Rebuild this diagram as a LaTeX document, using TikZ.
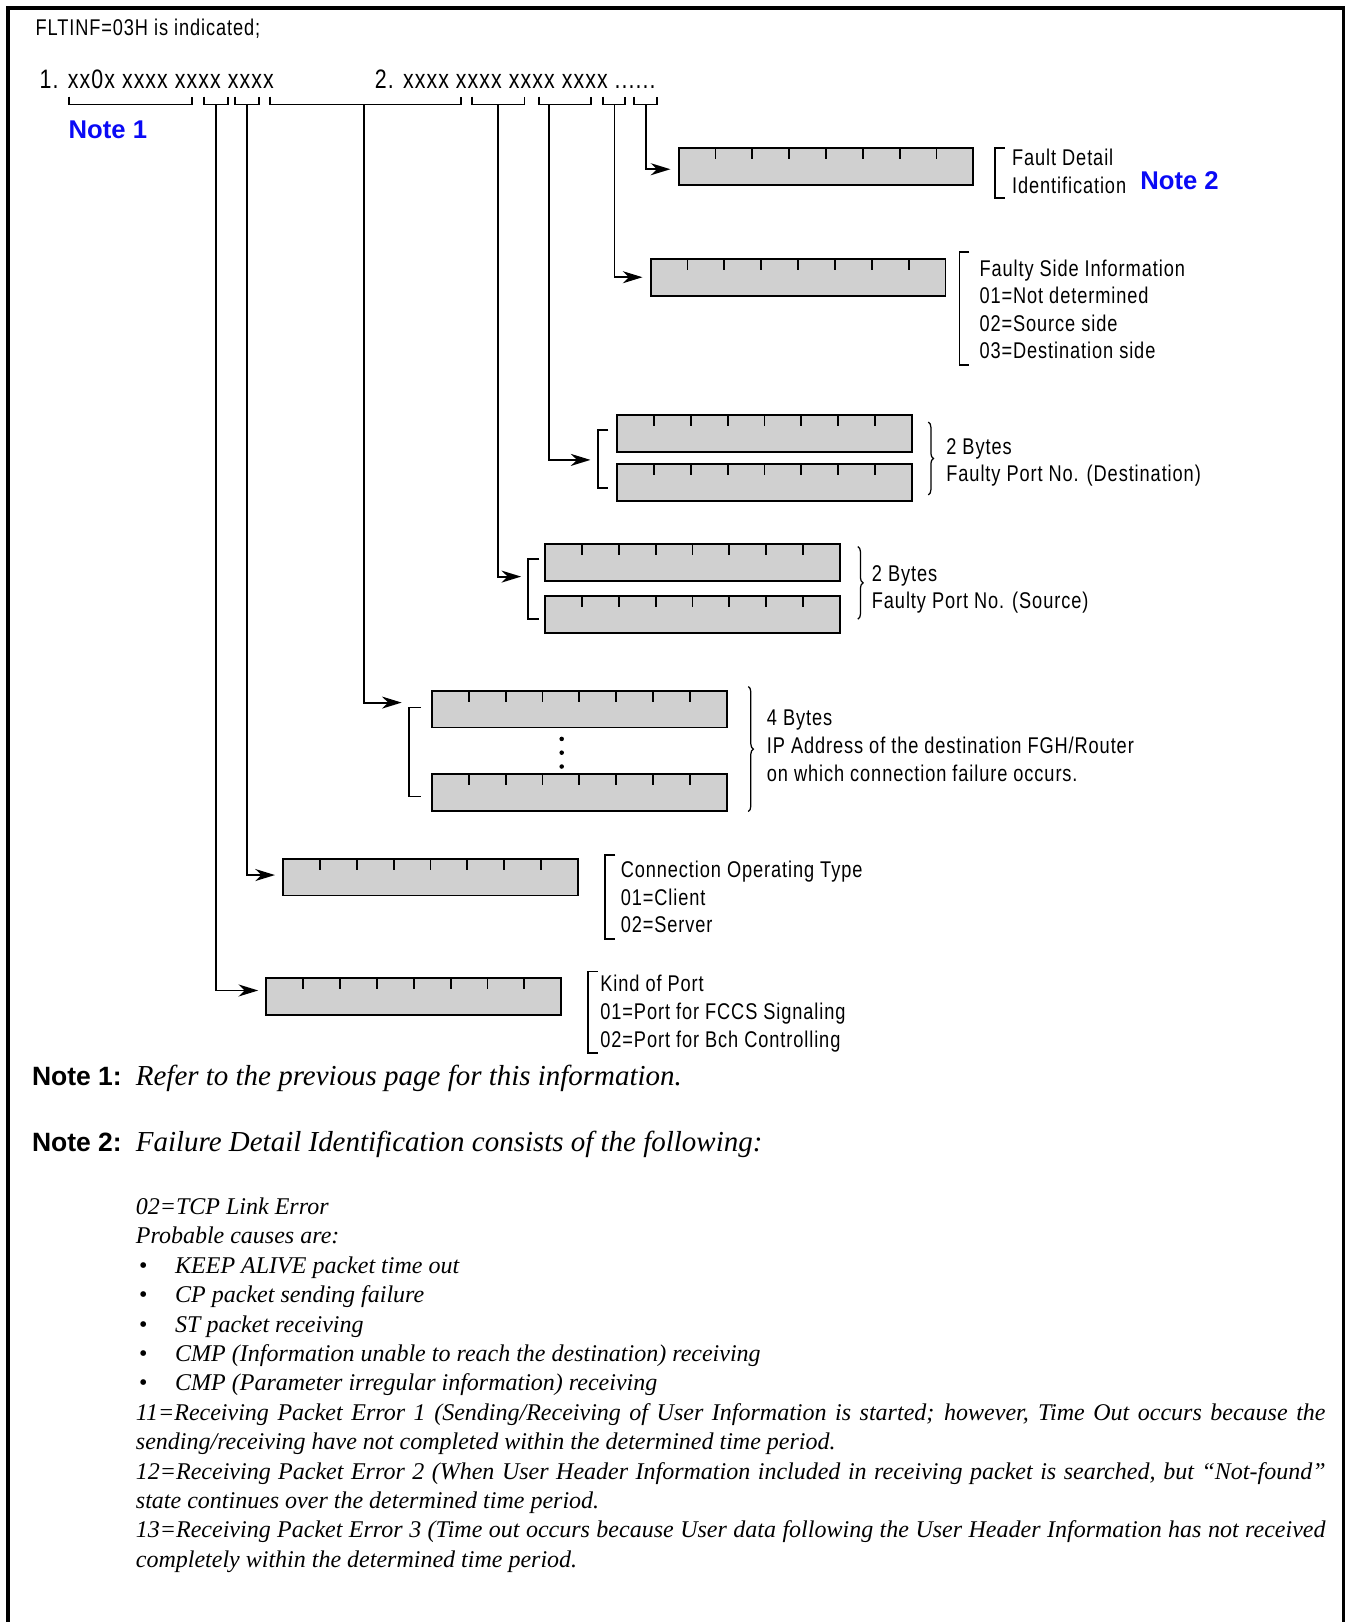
\documentclass[tikz,border=0pt]{standalone}
\usepackage{fontspec}
\usepackage{xcolor}
\usetikzlibrary{arrows.meta, calc, decorations.pathreplacing}
\setmainfont{Liberation Serif}
\newfontfamily\labelfont[FakeStretch=0.8, LetterSpace=4.0]{Liberation Sans}
\newfontfamily\headfont{Liberation Sans}
\definecolor{fieldgray}{RGB}{208,208,208}
\definecolor{noteblue}{RGB}{10,10,245}

% one octet field: grey box with seven bit ticks on the top edge
\tikzset{
  field/.style={draw, fill=fieldgray, line width=0.9pt, inner sep=0pt,
    minimum width=142.5pt, minimum height=17.75pt,
    path picture={\foreach \k in {1,...,7}
      \draw[line width=0.9pt] ($(path picture bounding box.north west)!\k/8!(path picture bounding box.north east)$) -- ++(0,10.5);}},
  feed/.style={-{Stealth[length=9.5pt,width=5.8pt,inset=3pt]}, line width=0.9pt, shorten >=3.5pt},
  bits/.style={line width=0.9pt},
  brk/.style={line width=0.9pt},
  brc/.style={decorate, decoration={brace, amplitude=2.5pt}, line width=0.6pt},
  lbl/.style={anchor=base west, inner sep=0pt, font=\labelfont\fontsize{11}{13}\selectfont},
  row/.style={anchor=base west, inner sep=0pt, font=\labelfont\fontsize{12.9}{14}\selectfont},
  tag/.style={anchor=base west, inner sep=0pt, text=noteblue, font=\headfont\bfseries\fontsize{12.4}{14}\selectfont},
  notehd/.style={anchor=base west, inner sep=0pt, font=\headfont\bfseries\fontsize{12.8}{15}\selectfont},
  notetx/.style={anchor=base west, inner sep=0pt, font=\itshape\fontsize{14}{16}\selectfont},
  cause/.style={anchor=base west, inner sep=0pt, font=\itshape\fontsize{11.6}{14}\selectfont}
}

\begin{document}
\begin{tikzpicture}[x=0.5pt, y=-0.5pt]
\useasboundingbox (0,0) rectangle (1301,1568);
% page frame, open at the bottom
\draw[line width=1.5pt] (7.7,1568) -- (7.7,7.7) -- (1299,7.7) -- (1299,1568);

\node[lbl] (head) at (34,34) {FLTINF=03H is indicated;};
\node[row] (word1) at (38,86) {1. xx0x xxxx xxxx xxxx};
\node[row] (word2) at (362,86) {2. xxxx xxxx xxxx xxxx ......};

% bit groups under the two words
\draw[bits] (66.7,93.5) |- (185.6,101) -- (185.6,93.5);
\draw[bits] (197,93.5) |- (220,101) -- (220,93.5);
\draw[bits] (227,93.5) |- (250,101) -- (250,93.5);
\draw[bits] (261,93.5) |- (445.5,101) -- (445.5,93.5);
\draw[bits] (456,93.5) |- (507,101) -- (507,93.5);
\draw[bits] (521,93.5) |- (571,101) -- (571,93.5);
\draw[bits] (583,93.5) |- (604,101) -- (604,93.5);
\draw[bits] (613,93.5) |- (635,101) -- (635,93.5);
\coordinate (g2) at (209,101);
\coordinate (g3) at (239,101);
\coordinate (g4) at (352,101);
\coordinate (g5) at (481,101);
\coordinate (g6) at (531,101);
\coordinate (g7) at (594,101);
\coordinate (g8) at (624.8,101);
\node[tag] (n1) at (66,133.5) {Note 1};

% fault detail identification
\node[field] (fdi) at (798.5,161.2) {};
\draw[brk] (971.4,143) -- (962,143) -- (962,191) -- (971.4,191);
\node[lbl] (fdi1) at (978,160) {Fault Detail};
\node[lbl] (fdi2) at (978,187) {Identification};
\node[tag] (n2) at (1102,183) {Note 2};

% faulty side information
\node[field] (fsi) at (771.5,268) {};
\draw[brk] (937,244) -- (927.5,244) -- (927.5,352.8) -- (937,352.8);
\node[lbl] (fsi1) at (946.5,267) {Faulty Side Information};
\node[lbl] (fsi2) at (946.5,293) {01=Not determined};
\node[lbl] (fsi3) at (946.5,320.5) {02=Source side};
\node[lbl] (fsi4) at (946.5,347) {03=Destination side};

% faulty port, destination
\node[field] (dst1) at (739,418.8) {};
\node[field] (dst2) at (739,466.5) {};
\draw[brk] (588,415.6) -- (577.8,415.6) -- (577.8,471.4) -- (588,471.4);
\coordinate (dstin) at (577.8,444.6);
\draw[brc] (897.4,408) -- (897.4,478.5);
\node[lbl] (dstl1) at (914.5,439) {2 Bytes};
\node[lbl] (dstl2) at (914.5,465) {Faulty Port No. (Destination)};

% faulty port, source
\node[field] (src1) at (669.5,543.5) {};
\node[field] (src2) at (669.5,593.8) {};
\draw[brk] (521.5,540.6) -- (510.8,540.6) -- (510.8,598.6) -- (521.5,598.6);
\coordinate (srcin) at (510.8,557.4);
\draw[brc] (829.3,528.4) -- (829.3,598.6);
\node[lbl] (srcl1) at (842.5,562) {2 Bytes};
\node[lbl] (srcl2) at (842.5,588.5) {Faulty Port No. (Source)};

% destination IP address
\node[field] (ip1) at (560,685.5) {};
\node[field] (ip2) at (560,766.2) {};
\foreach \y in {714.3,727.6,741} \fill (543,\y) circle (1.1pt);
\draw[brk] (407,684) -- (395.3,684) -- (395.3,770) -- (407,770);
\coordinate (ipin) at (395.3,679.2);
\draw[brc] (723.3,663.7) -- (723.3,784.5);
\node[lbl] (ipl1) at (741,701.5) {4 Bytes};
\node[lbl] (ipl2) at (741,728.5) {IP Address of the destination FGH/Router};
\node[lbl] (ipl3) at (741,755.5) {on which connection failure occurs.};

% connection operating type
\node[field] (cot) at (416.2,847.9) {};
\draw[brk] (595,826.4) -- (584.5,826.4) -- (584.5,907.9) -- (595,907.9);
\node[lbl] (cotl1) at (599.7,848.5) {Connection Operating Type};
\node[lbl] (cotl2) at (599.7,875) {01=Client};
\node[lbl] (cotl3) at (599.7,901.5) {02=Server};

% kind of port
\node[field] (kop) at (400,963.5) {};
\draw[brk] (578,939.2) -- (568.2,939.2) -- (568.2,1018) -- (578,1018);
\node[lbl] (kopl1) at (580,958.5) {Kind of Port};
\node[lbl] (kopl2) at (580,986) {01=Port for FCCS Signaling};
\node[lbl] (kopl3) at (580,1012.5) {02=Port for Bch Controlling};

% bit groups to their fields
\draw[feed] (g8) |- ([yshift=-1.2pt]fdi.west);
\draw[feed] (g7) |- (fsi.west);
\draw[feed] (g6) |- (dstin);
\draw[feed] (g5) |- (srcin);
\draw[feed] (g4) |- (ipin);
\draw[feed] (g3) |- ([yshift=1pt]cot.west);
\draw[feed] (g2) |- ([yshift=3pt]kop.west);

% notes
\node[notehd] (nh1) at (30.6,1049.5) {Note 1:};
\node[notetx] (nt1) at (131,1049.5) {Refer to the previous page for this information.};
\node[notehd] (nh2) at (30.6,1113.5) {Note 2:};
\node[notetx] (nt2) at (131,1113.5) {Failure Detail Identification consists of the following:};

\node[cause] (c1) at (131,1174) {02=TCP Link Error};
\node[cause] (c2) at (131,1202.4) {Probable causes are:};
\foreach \y/\t [count=\i] in {1230.8/KEEP ALIVE packet time out, 1259.3/CP packet sending failure,
    1287.7/ST packet receiving, 1316.1/CMP (Information unable to reach the destination) receiving,
    1344.5/CMP (Parameter irregular information) receiving} {
  \node[cause] (dot\i) at (134,\y) {\upshape\textbullet};
  \node[cause] (pc\i) at (169,\y) {\t};
}
\node[cause] (e11a) at (131,1372.9) {\makebox[575pt][s]{11=Receiving Packet Error 1 (Sending/Receiving of User Information is started; however, Time Out occurs because the}};
\node[cause] (e11b) at (131,1401.4) {sending/receiving have not completed within the determined time period.};
\node[cause] (e12a) at (131,1429.8) {\makebox[575pt][s]{12=Receiving Packet Error 2 (When User Header Information included in receiving packet is searched, but “Not-found”}};
\node[cause] (e12b) at (131,1458.2) {state continues over the determined time period.};
\node[cause] (e13a) at (131,1486.6) {\makebox[575pt][s]{13=Receiving Packet Error 3 (Time out occurs because User data following the User Header Information has not received}};
\node[cause] (e13b) at (131,1515) {completely within the determined time period.};
\end{tikzpicture}
\end{document}
